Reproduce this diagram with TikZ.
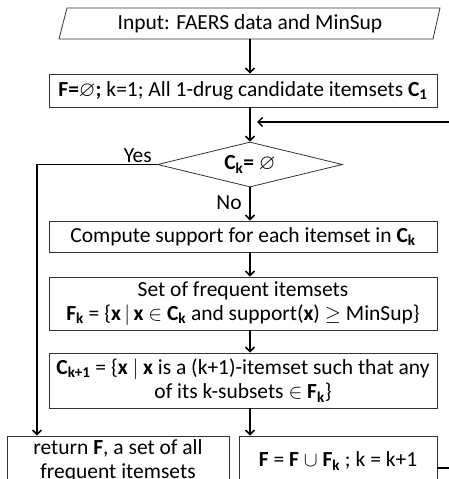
\documentclass[tikz,border=0pt]{standalone}
\usepackage{fontspec}
\usepackage{amssymb}
\setmainfont{Carlito}
\usetikzlibrary{arrows.meta,shapes.geometric}
\newcommand{\bsb}[2]{\textbf{#1}\textsubscript{\textbf{#2}}}
\begin{document}
\begin{tikzpicture}[x=1pt,y=-1pt,
  fnt/.style={font=\fontsize{21.5}{24.5}\selectfont},
  boxline/.style={draw=black!80, line width=0.8pt},
  box/.style={boxline, fnt, align=center, inner sep=0pt},
  txt/.style={fnt, inner sep=0pt},
  dia/.style={boxline, fnt, shape=diamond, aspect=4, inner sep=0pt, minimum width=185pt, minimum height=45pt},
  conn/.style={line width=1.5pt, -{Straight Barb[length=4.5pt,width=9pt]}},
  lbl/.style={fnt, inner sep=0pt}]
\useasboundingbox (0,0) rectangle (449,479);
\clip (0,0) rectangle (449,479);
% input parallelogram
\node[txt, minimum height=31pt] (in) at (250,23.5) {Input: FAERS data and MinSup};
\draw[boxline] (67,8) -- (440,8) -- (433,39) -- (59,39) -- cycle;
\node[box, minimum width=388pt, minimum height=33pt] (b2) at (243,90.5)
  {\textbf{F=}$\varnothing$\textbf{;} k=1; All 1-drug candidate itemsets \bsb{C}{1}};
\node[dia] (dia) at (250,164.5) {\bsb{C}{k}\textbf{=} $\varnothing$};
\node[box, minimum width=388pt, minimum height=31pt] (b3) at (243,236.5)
  {Compute support for each itemset in \bsb{C}{k}};
\node[box, minimum width=388pt, minimum height=53pt] (b4) at (243,303.5)
  {Set of frequent itemsets\\ \bsb{F}{k} = \{\textbf{x}$\,|\,$\textbf{x} $\in$ \bsb{C}{k} and support(\textbf{x}) $\geq$ MinSup\}};
\node[box, minimum width=388pt, minimum height=55pt] (b5) at (243,380.5)
  {\bsb{C}{k+1} = \{\textbf{x} $|$ \textbf{x} is a (k+1)-itemset such that any\\ of its k-subsets $\in$ \bsb{F}{k}\}};
\node[box, minimum width=222pt, minimum height=50pt] (ret) at (118,461)
  {return \textbf{F}, a set of all\\ frequent itemsets};
\node[box, minimum width=198pt, minimum height=50pt] (upd) at (338,461)
  {\textbf{F} = \textbf{F} $\cup$ \bsb{F}{k} ; k = k+1};
% labels
\node[lbl, anchor=south east] (yes) at (152,163) {Yes};
\node[lbl] (no) at (229,203) {No};
% connectors
\draw[conn] (in.south) -- (in.south |- b2.north);
\draw[conn] (b2.south -| dia.north) -- (dia.north);
\draw[conn] (dia.south) -- (dia.south |- b3.north);
\draw[conn] (b3.south -| dia.south) -- (b4.north -| dia.south);
\draw[conn] (b4.south -| dia.south) -- (b5.north -| dia.south);
\draw[conn] (b5.south -| dia.south) -- (upd.north -| dia.south);
\coordinate (yc) at (37,164.5);
\draw[conn] (dia.west) -- (yc) -- (yc |- ret.north);
\coordinate (lc) at (462,468);
\coordinate (lt) at (257,122);
\draw[conn] ([yshift=-7pt]upd.east) -- (lc) |- (lt);
\end{tikzpicture}
\end{document}
